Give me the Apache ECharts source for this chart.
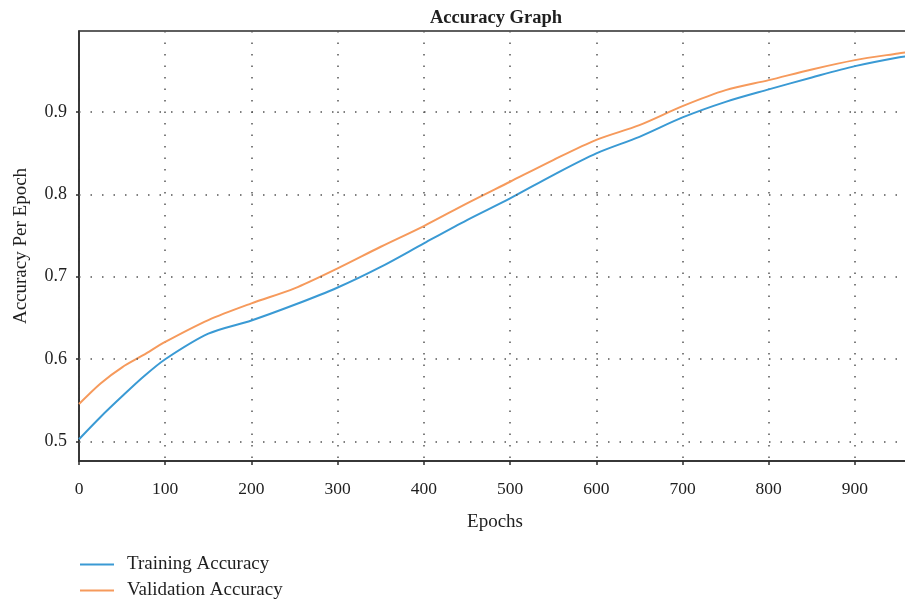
<!DOCTYPE html>
<html>
<head>
<meta charset="utf-8">
<script src="https://cdn.jsdelivr.net/npm/echarts@6/dist/echarts.min.js"></script>
<style>
  html, body { margin: 0; padding: 0; background: #fff; }
  #chart { width: 905px; height: 602px; }
</style>
</head>
<body>
<div id="chart"></div>
<script>
// Epochs at which accuracy was sampled
const epochs = [0, 25, 50, 75, 100, 150, 200, 250, 300, 350, 400, 450, 500, 550, 600, 650, 700, 750, 800, 850, 900, 950, 965];

// Accuracy curves
const trainingAccuracy = [0.503, 0.530, 0.555, 0.579, 0.600, 0.631, 0.647, 0.666, 0.687, 0.712, 0.7405, 0.7687, 0.795, 0.8233, 0.8496, 0.8697, 0.8932, 0.9121, 0.9272, 0.9417, 0.9554, 0.9659, 0.968];
const validationAccuracy = [0.5457, 0.5707, 0.5902, 0.6052, 0.621, 0.6475, 0.6678, 0.686, 0.7102, 0.7364, 0.7615, 0.789, 0.8152, 0.8415, 0.866, 0.8839, 0.9069, 0.9263, 0.9384, 0.9514, 0.9627, 0.9708, 0.973];

// Y tick values
const yTicks = [0.5, 0.6, 0.7, 0.8, 0.9];

const FONT = '"Liberation Serif", "DejaVu Serif", serif';
const TEXT = '#1f1f1f';
const AXIS = '#2b2b2b';
const GRID_DOT = { color: '#555', width: 1.5, type: [1.5, 10] };

const chart = echarts.init(document.getElementById('chart'), null, { renderer: 'canvas' });

const pair = (xs, ys) => xs.map((x, i) => [x, ys[i]]);

chart.setOption({
  animation: false,
  backgroundColor: '#fff',
  title: {
    text: 'Accuracy Graph',
    left: 491, top: 4, textAlign: 'center',
    textStyle: { fontFamily: FONT, fontSize: 18.5, fontWeight: 'bold', color: TEXT }
  },
  legend: {
    orient: 'vertical', left: 80, top: 555, padding: 0,
    itemWidth: 34, itemHeight: 2, itemGap: 7,
    icon: 'rect',
    textStyle: { fontFamily: FONT, fontSize: 19, color: TEXT, padding: [0, 0, 0, 8] },
    data: ['Training Accuracy', 'Validation Accuracy']
  },
  grid: {
    left: 79, top: 31, width: 832, bottom: 141,
    outerBoundsMode: 'none',
    show: true, borderColor: AXIS, borderWidth: 1.5, backgroundColor: 'transparent'
  },
  xAxis: {
    type: 'value', min: 0, max: 965, interval: 100,
    name: 'Epochs', nameLocation: 'middle', nameGap: 52,
    nameTextStyle: { fontFamily: FONT, fontSize: 19, color: TEXT },
    axisLine: { show: true, onZero: false, lineStyle: { color: AXIS, width: 1.5 } },
    axisTick: { show: true, length: 4, lineStyle: { color: AXIS, width: 1.5 } },
    axisLabel: { fontFamily: FONT, fontSize: 17.5, color: TEXT, margin: 19, showMaxLabel: false },
    splitLine: { show: true, lineStyle: GRID_DOT }
  },
  yAxis: {
    type: 'value', min: 0.4766, max: 0.998,
    name: 'Accuracy Per Epoch', nameLocation: 'middle', nameGap: 48, nameRotate: 90,
    nameTextStyle: { fontFamily: FONT, fontSize: 19, color: TEXT },
    axisLine: { show: true, lineStyle: { color: AXIS, width: 1.5 } },
    axisTick: { show: true, length: 3, customValues: yTicks, lineStyle: { color: AXIS, width: 1.5 } },
    axisLabel: { fontFamily: FONT, fontSize: 18, color: TEXT, margin: 12, customValues: yTicks,
                 formatter: v => v.toFixed(1) },
    splitLine: { show: false }
  },
  series: [
    {
      name: 'Training Accuracy', type: 'line', smooth: 0.3, symbol: 'none',
      color: '#3a9ad4',
      lineStyle: { width: 2, color: '#3a9ad4' },
      data: pair(epochs, trainingAccuracy),
      markLine: {
        silent: true, symbol: 'none', label: { show: false },
        lineStyle: GRID_DOT,
        data: yTicks.map(v => ({ yAxis: v }))
      },
      z: 3
    },
    {
      name: 'Validation Accuracy', type: 'line', smooth: 0.3, symbol: 'none',
      color: '#f69a5c',
      lineStyle: { width: 2, color: '#f69a5c' },
      data: pair(epochs, validationAccuracy),
      z: 3
    }
  ]
});
</script>
</body>
</html>
